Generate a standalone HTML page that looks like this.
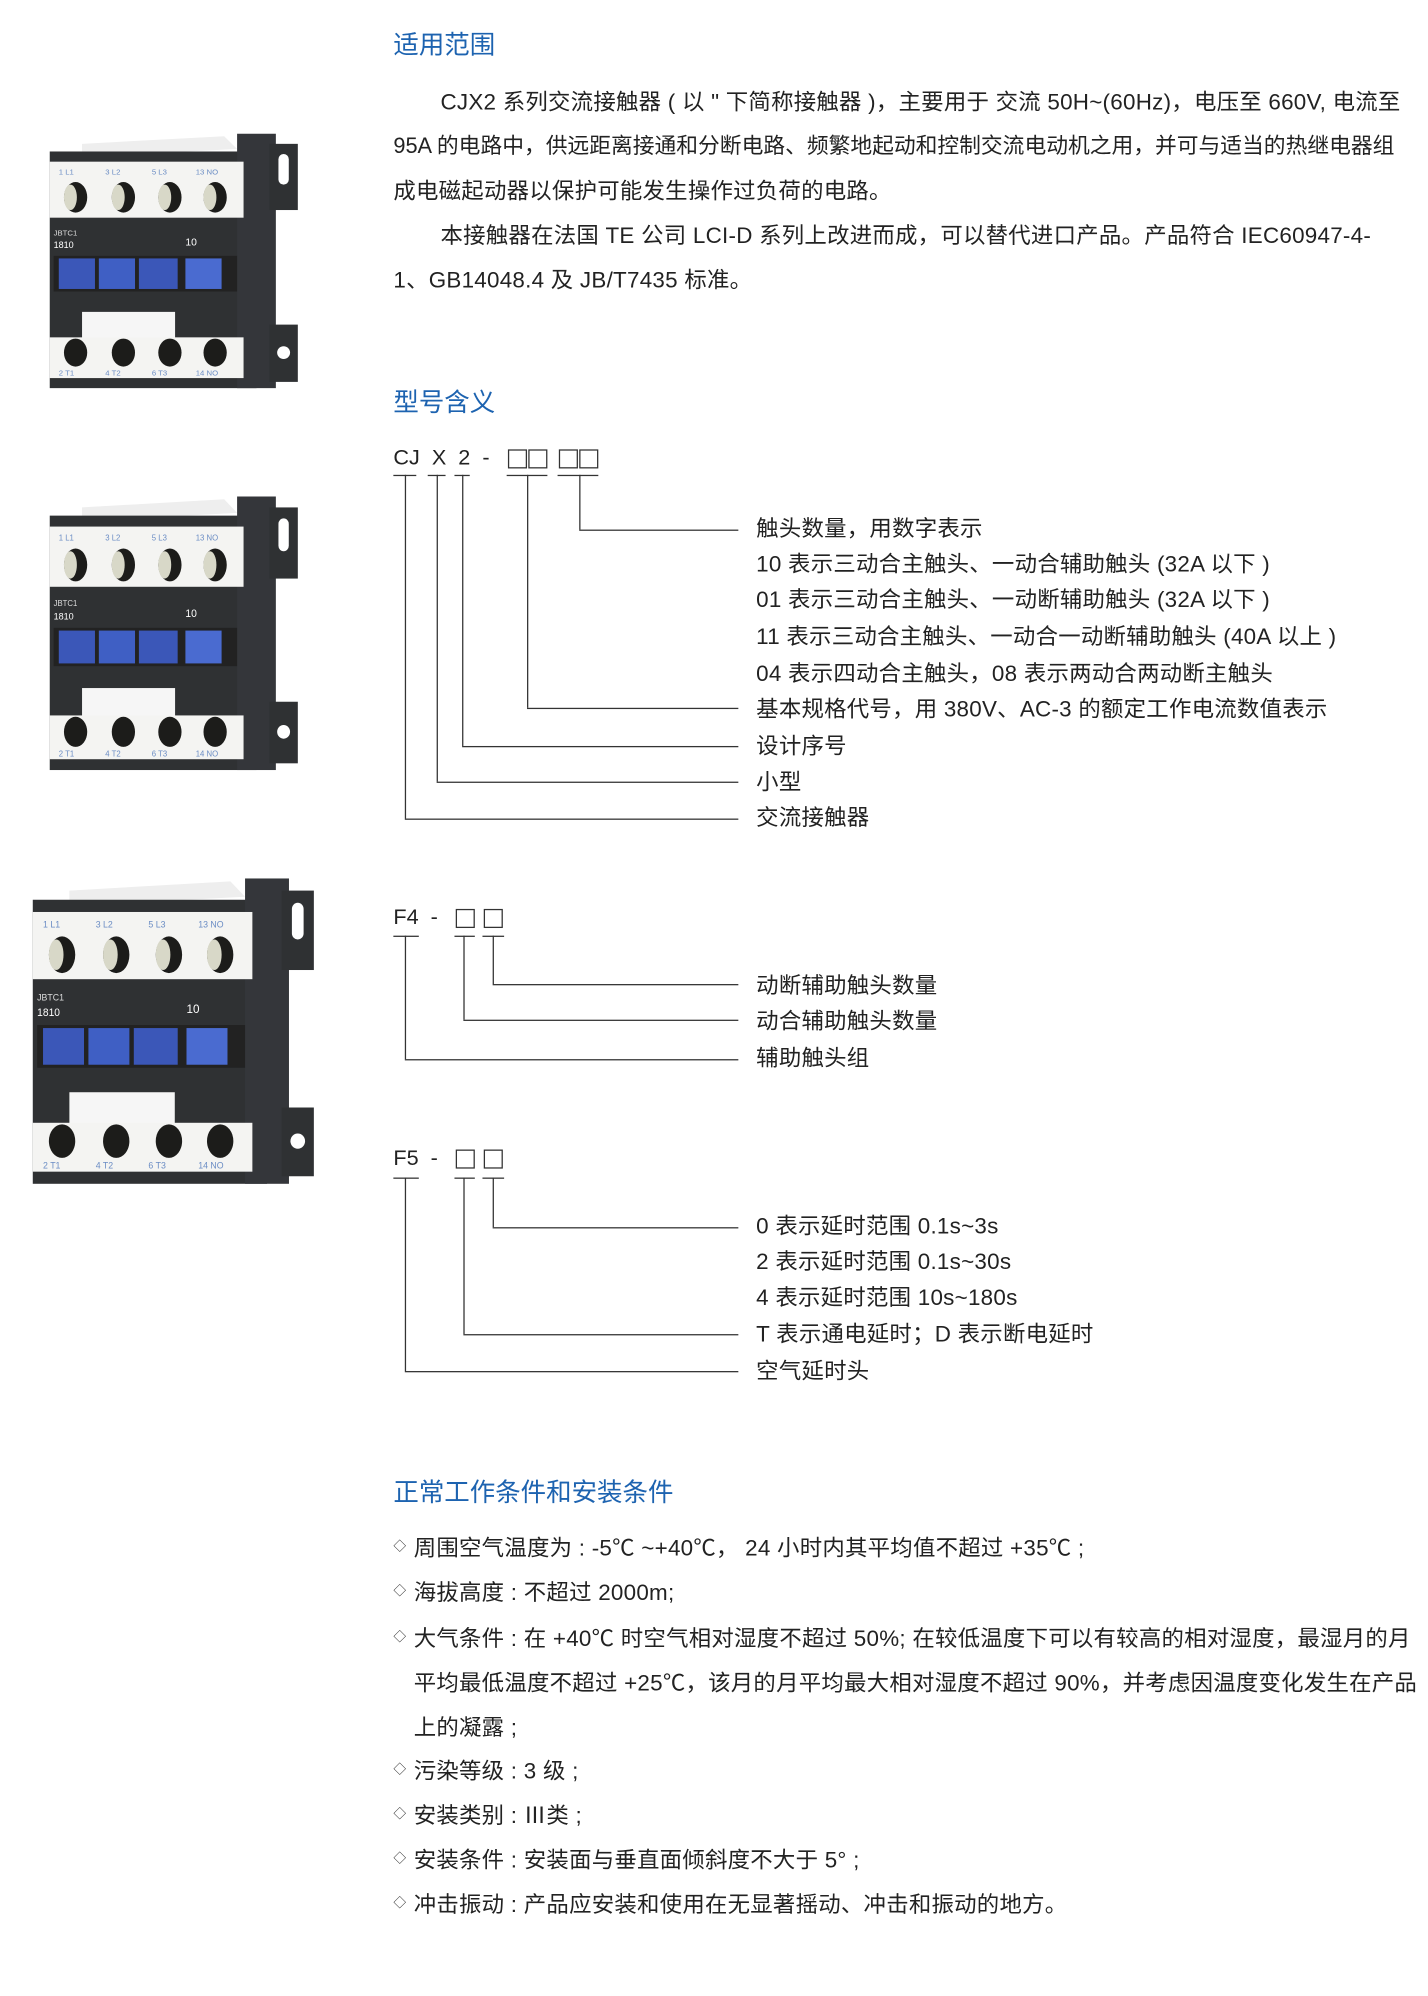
<!DOCTYPE html>
<html><head><meta charset="utf-8">
<style>
html,body{margin:0;padding:0;background:#fff;}
body{width:1428px;height:1995px;overflow:hidden;position:relative;}
#w{position:absolute;left:0;top:0;width:1122px;height:1568px;transform:scale(1.273);transform-origin:0 0;font-family:"Liberation Sans","Noto Sans CJK SC",sans-serif;color:#222;}
.t{position:absolute;white-space:nowrap;font-size:17.6px;line-height:20px;letter-spacing:0.2px;}
.h{position:absolute;white-space:nowrap;font-size:20px;line-height:24px;color:#1d63b0;}
.l{position:absolute;background:#333;}
.c{position:absolute;font-size:17px;line-height:20px;white-space:nowrap;}
.sq{position:absolute;width:13px;height:13px;border:1px solid #333;}
.d{position:absolute;font-size:10px;line-height:20px;left:-16px;top:0;}
</style></head><body><div id="w">

<svg width="0" height="0" style="position:absolute">
<defs>
<g id="prod">
<rect x="0" y="0" width="200" height="200" fill="#fff"/>
<path d="M30 8 L140 2 L150 12 L30 18Z" fill="#eee"/>
<rect x="5" y="14" width="160" height="186" fill="#2f3133"/>
<rect x="150" y="0" width="30" height="200" fill="#34363a"/>
<rect x="175" y="8" width="22" height="52" fill="#2f3133"/>
<rect x="182" y="16" width="8" height="24" rx="4" fill="#fff"/>
<rect x="175" y="150" width="22" height="45" fill="#2f3133"/>
<circle cx="186" cy="172" r="5" fill="#fff"/>
<rect x="5" y="22" width="150" height="44" fill="#f4f4f2"/>
<g fill="#6a8cc4" font-size="6" font-family="Liberation Sans"><text x="12" y="32">1 L1</text><text x="48" y="32">3 L2</text><text x="84" y="32">5 L3</text><text x="118" y="32">13 NO</text></g>
<g fill="#1c1c1a"><ellipse cx="25" cy="50" rx="9" ry="12"/><ellipse cx="62" cy="50" rx="9" ry="12"/><ellipse cx="98" cy="50" rx="9" ry="12"/><ellipse cx="133" cy="50" rx="9" ry="12"/></g>
<g fill="#d8d8c8"><ellipse cx="21" cy="50" rx="5" ry="10"/><ellipse cx="58" cy="50" rx="5" ry="10"/><ellipse cx="94" cy="50" rx="5" ry="10"/><ellipse cx="129" cy="50" rx="5" ry="10"/></g>
<text x="8" y="80" fill="#ddd" font-size="6" font-family="Liberation Sans">JBTC1</text>
<text x="8" y="90" fill="#fff" font-size="7" font-family="Liberation Sans">1810</text>
<text x="110" y="88" fill="#fff" font-size="8" font-family="Liberation Sans">10</text>
<rect x="8" y="96" width="142" height="28" fill="#222"/>
<rect x="12" y="98" width="28" height="24" fill="#3b57b8"/><rect x="43" y="98" width="28" height="24" fill="#3f5fc4"/><rect x="74" y="98" width="30" height="24" fill="#3b57b8"/><rect x="110" y="98" width="28" height="24" fill="#4a6bd0"/>
<rect x="30" y="140" width="72" height="22" fill="#f6f6f6"/>
<rect x="5" y="160" width="150" height="32" fill="#f4f4f2"/>
<g fill="#1c1c1a"><ellipse cx="25" cy="172" rx="9" ry="11"/><ellipse cx="62" cy="172" rx="9" ry="11"/><ellipse cx="98" cy="172" rx="9" ry="11"/><ellipse cx="133" cy="172" rx="9" ry="11"/></g>
<g fill="#6a8cc4" font-size="6" font-family="Liberation Sans"><text x="12" y="190">2 T1</text><text x="48" y="190">4 T2</text><text x="84" y="190">6 T3</text><text x="118" y="190">14 NO</text></g>
</g>
</defs></svg>
<svg style="position:absolute;left:34px;top:105px" width="203" height="200" viewBox="0 0 200 200" preserveAspectRatio="none"><use href="#prod"/></svg>
<svg style="position:absolute;left:34px;top:390px" width="203" height="215" viewBox="0 0 200 200" preserveAspectRatio="none"><use href="#prod"/></svg>
<svg style="position:absolute;left:20px;top:690px" width="230" height="240" viewBox="0 0 200 200" preserveAspectRatio="none"><use href="#prod"/></svg>

<div class="h" style="left:309px;top:24px">适用范围</div>
<div class="t" style="left:346px;top:70px">CJX2 系列交流接触器 ( 以 " 下简称接触器 )，主要用于 交流 50H~(60Hz)，电压至 660V, 电流至</div>
<div class="t" style="left:309px;top:105px;font-size:17.1px;letter-spacing:0">95A 的电路中，供远距离接通和分断电路、频繁地起动和控制交流电动机之用，并可与适当的热继电器组</div>
<div class="t" style="left:309px;top:140px">成电磁起动器以保护可能发生操作过负荷的电路。</div>
<div class="t" style="left:346px;top:175px">本接触器在法国 TE 公司 LCI-D 系列上改进而成，可以替代进口产品。产品符合 IEC60947-4-</div>
<div class="t" style="left:309px;top:210px">1、GB14048.4 及 JB/T7435 标准。</div>

<div class="h" style="left:309px;top:305px">型号含义</div>

<div class="c" style="left:309px;top:350px">CJ&nbsp;&nbsp;X&nbsp;&nbsp;2&nbsp;&nbsp;-</div>
<div class="sq" style="left:399px;top:353px"></div><div class="sq" style="left:415px;top:353px"></div>
<div class="sq" style="left:439px;top:353px"></div><div class="sq" style="left:455px;top:353px"></div>
<div class="l" style="left:309px;top:373px;width:18px;height:1px"></div>
<div class="l" style="left:336px;top:373px;width:14px;height:1px"></div>
<div class="l" style="left:357px;top:373px;width:12px;height:1px"></div>
<div class="l" style="left:398px;top:373px;width:32px;height:1px"></div>
<div class="l" style="left:438px;top:373px;width:32px;height:1px"></div>
<div class="l" style="left:318px;top:373px;width:1px;height:270px"></div>
<div class="l" style="left:343px;top:373px;width:1px;height:241px"></div>
<div class="l" style="left:363px;top:373px;width:1px;height:213px"></div>
<div class="l" style="left:414px;top:373px;width:1px;height:183px"></div>
<div class="l" style="left:455px;top:373px;width:1px;height:43px"></div>
<div class="l" style="left:455px;top:416px;width:125px;height:1px"></div>
<div class="l" style="left:414px;top:556px;width:166px;height:1px"></div>
<div class="l" style="left:363px;top:586px;width:217px;height:1px"></div>
<div class="l" style="left:343px;top:614px;width:237px;height:1px"></div>
<div class="l" style="left:318px;top:643px;width:262px;height:1px"></div>
<div class="t" style="left:594px;top:405px">触头数量，用数字表示</div>
<div class="t" style="left:594px;top:433px">10 表示三动合主触头、一动合辅助触头 (32A 以下 )</div>
<div class="t" style="left:594px;top:461px">01 表示三动合主触头、一动断辅助触头 (32A 以下 )</div>
<div class="t" style="left:594px;top:490px">11 表示三动合主触头、一动合一动断辅助触头 (40A 以上 )</div>
<div class="t" style="left:594px;top:519px">04 表示四动合主触头，08 表示两动合两动断主触头</div>
<div class="t" style="left:594px;top:547px">基本规格代号，用 380V、AC-3 的额定工作电流数值表示</div>
<div class="t" style="left:594px;top:576px">设计序号</div>
<div class="t" style="left:594px;top:604px">小型</div>
<div class="t" style="left:594px;top:632px">交流接触器</div>

<div class="c" style="left:309px;top:711px">F4&nbsp;&nbsp;-</div>
<div class="sq" style="left:358px;top:714px"></div><div class="sq" style="left:380px;top:714px"></div>
<div class="l" style="left:309px;top:735px;width:20px;height:1px"></div>
<div class="l" style="left:357px;top:735px;width:16px;height:1px"></div>
<div class="l" style="left:379px;top:735px;width:17px;height:1px"></div>
<div class="l" style="left:318px;top:735px;width:1px;height:97px"></div>
<div class="l" style="left:364px;top:735px;width:1px;height:66px"></div>
<div class="l" style="left:387px;top:735px;width:1px;height:38px"></div>
<div class="l" style="left:387px;top:773px;width:193px;height:1px"></div>
<div class="l" style="left:364px;top:801px;width:216px;height:1px"></div>
<div class="l" style="left:318px;top:832px;width:262px;height:1px"></div>
<div class="t" style="left:594px;top:764px">动断辅助触头数量</div>
<div class="t" style="left:594px;top:792px">动合辅助触头数量</div>
<div class="t" style="left:594px;top:821px">辅助触头组</div>

<div class="c" style="left:309px;top:900px">F5&nbsp;&nbsp;-</div>
<div class="sq" style="left:358px;top:903px"></div><div class="sq" style="left:380px;top:903px"></div>
<div class="l" style="left:309px;top:925px;width:20px;height:1px"></div>
<div class="l" style="left:357px;top:925px;width:16px;height:1px"></div>
<div class="l" style="left:379px;top:925px;width:17px;height:1px"></div>
<div class="l" style="left:318px;top:925px;width:1px;height:152px"></div>
<div class="l" style="left:364px;top:925px;width:1px;height:123px"></div>
<div class="l" style="left:387px;top:925px;width:1px;height:39px"></div>
<div class="l" style="left:387px;top:964px;width:193px;height:1px"></div>
<div class="l" style="left:364px;top:1048px;width:216px;height:1px"></div>
<div class="l" style="left:318px;top:1077px;width:262px;height:1px"></div>
<div class="t" style="left:594px;top:953px">0 表示延时范围 0.1s~3s</div>
<div class="t" style="left:594px;top:981px">2 表示延时范围 0.1s~30s</div>
<div class="t" style="left:594px;top:1009px">4 表示延时范围 10s~180s</div>
<div class="t" style="left:594px;top:1038px">T 表示通电延时；D 表示断电延时</div>
<div class="t" style="left:594px;top:1067px">空气延时头</div>

<div class="h" style="left:309px;top:1161px">正常工作条件和安装条件</div>
<div class="t" style="left:325px;top:1206px"><span class="d">◇</span>周围空气温度为 : -5℃ ~+40℃， 24 小时内其平均值不超过 +35℃ ;</div>
<div class="t" style="left:325px;top:1241px"><span class="d">◇</span>海拔高度 : 不超过 2000m;</div>
<div class="t" style="left:325px;top:1277px"><span class="d">◇</span>大气条件 : 在 +40℃ 时空气相对湿度不超过 50%; 在较低温度下可以有较高的相对湿度，最湿月的月</div>
<div class="t" style="left:325px;top:1312px">平均最低温度不超过 +25℃，该月的月平均最大相对湿度不超过 90%，并考虑因温度变化发生在产品</div>
<div class="t" style="left:325px;top:1347px">上的凝露 ;</div>
<div class="t" style="left:325px;top:1381px"><span class="d">◇</span>污染等级 : 3 级 ;</div>
<div class="t" style="left:325px;top:1416px"><span class="d">◇</span>安装类别 : Ⅲ类 ;</div>
<div class="t" style="left:325px;top:1451px"><span class="d">◇</span>安装条件 : 安装面与垂直面倾斜度不大于 5° ;</div>
<div class="t" style="left:325px;top:1486px"><span class="d">◇</span>冲击振动 : 产品应安装和使用在无显著摇动、冲击和振动的地方。</div>

</div></body></html>
